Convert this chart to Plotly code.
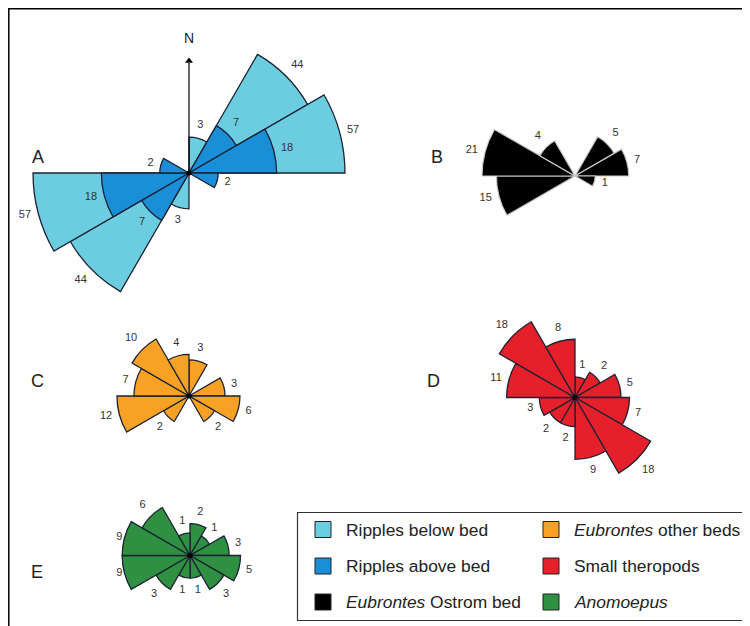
import numpy as np
import plotly.graph_objects as go

# ---------------- data (azimuth bin centres in degrees, counts) ----------------
A_below_dirs = [15, 45, 75, 195, 225, 255]
A_below_counts = [3, 44, 57, 3, 44, 57]
A_above_dirs = [45, 75, 105, 225, 255, 285]
A_above_counts = [7, 18, 2, 7, 18, 2]

B_dirs = [45, 75, 105, 255, 285, 315]
B_counts = [5, 7, 1, 15, 21, 4]

C_dirs = [15, 75, 105, 135, 225, 255, 285, 315, 345]
C_counts = [3, 3, 6, 2, 2, 12, 7, 10, 4]

D_dirs = [15, 45, 75, 105, 135, 165, 195, 225, 255, 285, 315, 345]
D_counts = [1, 2, 5, 7, 18, 9, 2, 2, 3, 11, 18, 8]

E_dirs = [15, 45, 75, 105, 135, 165, 195, 225, 255, 285, 315, 345]
E_counts = [2, 1, 3, 5, 3, 1, 1, 3, 9, 9, 6, 1]

panel_letters = ["A", "B", "C", "D", "E"]
legend_labels = ["Ripples below bed", "Ripples above bed", "<i>Eubrontes</i> Ostrom bed",
                 "<i>Eubrontes</i> other beds", "Small theropods", "<i>Anomoepus</i>"]

# ---------------- styling ----------------
OFF = 8                      # page body margin
W, H = 750 - OFF, 626 - OFF
LIGHT = "#6dcde0"
DARK = "#1a8fd8"
BLACK = "#000000"
ORANGE = "#f7a125"
RED = "#e5202a"
GREEN = "#2e9040"
EDGE = "#1b2233"
FONT = "Liberation Sans, Arial, sans-serif"


def px(x):
    return (x - OFF) / W


def py(y):
    return 1 - (y - OFF) / H


# polar panels: centre (page px), px per sqrt(count), half size of domain (px)
panels = {
    "polar":  dict(cx=189, cy=173, scale=20.66, R=165),
    "polar2": dict(cx=575, cy=176, scale=20.3, R=110),
    "polar3": dict(cx=189, cy=396, scale=20.8, R=90),
    "polar4": dict(cx=575, cy=397.5, scale=20.6, R=100),
    "polar5": dict(cx=190, cy=555.5, scale=22.6, R=70.3),
}

fig = go.Figure()


def add_bars(sub, dirs, counts, color, line_color, line_w=1.3):
    fig.add_trace(go.Barpolar(
        theta=dirs, r=np.sqrt(counts), width=[30] * len(dirs),
        marker=dict(color=color, line=dict(color=line_color, width=line_w)),
        subplot=sub, showlegend=False, hoverinfo="skip"))


def text_pos(az):
    names = ["top center", "top right", "middle right", "bottom right",
             "bottom center", "bottom left", "middle left", "top left"]
    return names[int(((az + 22.5) % 360) // 45)]


def add_labels(sub, dirs, counts):
    p = panels[sub]
    rmax = p["R"] / p["scale"]
    txt = [str(c) for c in counts]
    r = np.minimum(np.sqrt(counts) + 7.5 / p["scale"], rmax * 0.997)
    fig.add_trace(go.Scatterpolar(
        theta=dirs, r=r, mode="text", text=txt,
        textposition=[text_pos(a) for a in dirs],
        textfont=dict(family=FONT, size=11, color="#333333"),
        cliponaxis=False, subplot=sub, showlegend=False, hoverinfo="skip"))


def add_centre(sub):
    fig.add_trace(go.Scatterpolar(
        theta=[0], r=[0], mode="markers", marker=dict(color="black", size=5),
        subplot=sub, showlegend=False, hoverinfo="skip", cliponaxis=False))


# A
add_bars("polar", A_below_dirs, A_below_counts, LIGHT, EDGE)
add_bars("polar", A_above_dirs, A_above_counts, DARK, EDGE)
add_labels("polar", A_below_dirs, A_below_counts)
add_labels("polar", A_above_dirs, A_above_counts)
# north arrow
pA = panels["polar"]
fig.add_trace(go.Scatterpolar(
    theta=[0, 0], r=[0, 110 / pA["scale"]], mode="lines",
    line=dict(color="black", width=1.2), subplot="polar",
    showlegend=False, hoverinfo="skip", cliponaxis=False))
fig.add_trace(go.Scatterpolar(
    theta=[0], r=[112 / pA["scale"]], mode="markers",
    marker=dict(symbol="triangle-up", color="black", size=7),
    subplot="polar", showlegend=False, hoverinfo="skip", cliponaxis=False))
fig.add_trace(go.Scatterpolar(
    theta=[0], r=[134 / pA["scale"]], mode="text", text=["N"],
    textfont=dict(family=FONT, size=14, color="#222222"),
    subplot="polar", showlegend=False, hoverinfo="skip", cliponaxis=False))
add_centre("polar")

# B
add_bars("polar2", B_dirs, B_counts, BLACK, "#c8c8c8", 1.2)
add_labels("polar2", B_dirs, B_counts)

# C
add_bars("polar3", C_dirs, C_counts, ORANGE, EDGE)
add_labels("polar3", C_dirs, C_counts)
add_centre("polar3")

# D
add_bars("polar4", D_dirs, D_counts, RED, EDGE)
add_labels("polar4", D_dirs, D_counts)
add_centre("polar4")

# E
add_bars("polar5", E_dirs, E_counts, GREEN, EDGE)
add_labels("polar5", E_dirs, E_counts)
add_centre("polar5")

layout = dict(width=W, height=H, margin=dict(l=0, r=0, t=0, b=0),
              paper_bgcolor="white", plot_bgcolor="white", showlegend=False)
for name, p in panels.items():
    R = p["R"]
    layout[name] = dict(
        domain=dict(x=[max(0, px(p["cx"] - R)), min(1, px(p["cx"] + R))],
                    y=[max(0, py(p["cy"] + R)), min(1, py(p["cy"] - R))]),
        bgcolor="rgba(0,0,0,0)", barmode="overlay",
        radialaxis=dict(range=[0, R / p["scale"]], visible=False),
        angularaxis=dict(direction="clockwise", rotation=90, visible=False),
    )
fig.update_layout(**layout)

# panel letters
letter_pos = [(38, 157), (437, 157), (37, 381), (433, 381), (37, 572)]
for L, (x, y) in zip(panel_letters, letter_pos):
    fig.add_annotation(x=px(x), y=py(y), xref="paper", yref="paper", text=L,
                       xanchor="center", yanchor="middle", showarrow=False,
                       font=dict(family=FONT, size=18, color="#222222"))

# outer frame (top and left visible)
fig.add_shape(type="rect", xref="paper", yref="paper",
              x0=px(8.8), x1=1.05, y0=-0.05, y1=py(8.8),
              line=dict(color="black", width=1.5))

# legend box
fig.add_shape(type="rect", xref="paper", yref="paper",
              x0=px(297.5), x1=px(748), y0=py(620.5), y1=py(512.5),
              line=dict(color="#333333", width=1.2))
leg_colors = [LIGHT, DARK, BLACK, ORANGE, RED, GREEN]
rows_y = [529.5, 566, 602]
cols_x = [(315, 344), (543, 572)]
for i, (lab, col) in enumerate(zip(legend_labels, leg_colors)):
    cx0, tx = cols_x[i // 3]
    yc = rows_y[i % 3]
    fig.add_shape(type="rect", xref="paper", yref="paper",
                  x0=px(cx0), x1=px(cx0 + 16), y0=py(yc + 8), y1=py(yc - 8),
                  fillcolor=col, line=dict(color="#222222", width=1))
    fig.add_annotation(x=px(tx), y=py(yc), xref="paper", yref="paper", text=lab,
                       showarrow=False, xanchor="left", yanchor="middle",
                       font=dict(family=FONT, size=17.4, color="#222222"))

fig.write_html("out.html")
